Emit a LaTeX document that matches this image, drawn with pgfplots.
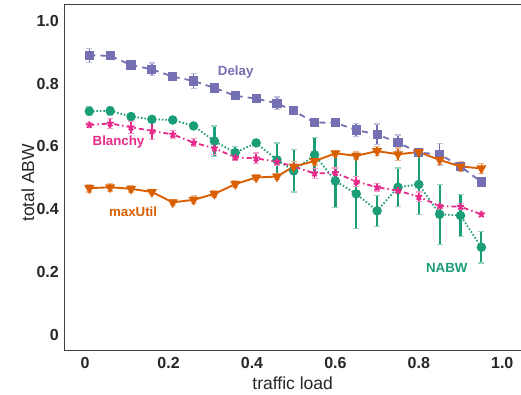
\documentclass[border=0pt]{standalone}
\usepackage{pgfplots}
\pgfplotsset{compat=1.18}
\usepackage{pgfplotstable}
\usepackage{fontspec}
\setmainfont{Liberation Sans}
\definecolor{cDelay}{HTML}{7570B3}
\definecolor{cNABW}{HTML}{1B9E77}
\definecolor{cBlan}{HTML}{E7298A}
\definecolor{cMax}{HTML}{D95F02}
\pgfplotstableread{
x y e
0.01 0.890 0.022
0.06 0.888 0.006
0.11 0.859 0.010
0.16 0.845 0.020
0.21 0.822 0.010
0.26 0.808 0.025
0.31 0.786 0.015
0.36 0.761 0.012
0.41 0.752 0.006
0.46 0.737 0.020
0.50 0.713 0.008
0.55 0.676 0.008
0.60 0.675 0.008
0.65 0.652 0.020
0.70 0.638 0.033
0.75 0.612 0.024
0.80 0.580 0.010
0.85 0.575 0.034
0.90 0.536 0.010
0.95 0.487 0.010
}\delaytab
\pgfplotstableread{
x y e
0.01 0.712 0.013
0.06 0.713 0.013
0.11 0.695 0.008
0.16 0.686 0.006
0.21 0.684 0.006
0.26 0.665 0.008
0.31 0.617 0.048
0.36 0.580 0.020
0.41 0.611 0.005
0.46 0.557 0.054
0.50 0.522 0.067
0.55 0.573 0.054
0.60 0.490 0.084
0.65 0.449 0.111
0.70 0.395 0.050
0.75 0.470 0.061
0.80 0.479 0.095
0.85 0.384 0.096
0.90 0.380 0.066
0.95 0.279 0.050
}\nabwtab
\pgfplotstableread{
x y e
0.01 0.668 0.008
0.06 0.673 0.015
0.11 0.661 0.020
0.16 0.649 0.026
0.21 0.638 0.013
0.26 0.612 0.013
0.31 0.594 0.020
0.36 0.565 0.010
0.41 0.562 0.017
0.46 0.551 0.010
0.50 0.536 0.006
0.55 0.514 0.015
0.60 0.516 0.015
0.65 0.488 0.015
0.70 0.470 0.012
0.75 0.459 0.006
0.80 0.440 0.015
0.85 0.410 0.006
0.90 0.408 0.010
0.95 0.384 0.006
}\blantab
\pgfplotstableread{
x y e
0.01 0.467 0.012
0.06 0.470 0.012
0.11 0.465 0.010
0.16 0.455 0.008
0.21 0.422 0.010
0.26 0.430 0.012
0.31 0.449 0.010
0.36 0.480 0.012
0.41 0.501 0.010
0.46 0.504 0.010
0.50 0.536 0.015
0.55 0.553 0.012
0.60 0.578 0.010
0.65 0.570 0.012
0.70 0.585 0.015
0.75 0.575 0.020
0.80 0.582 0.012
0.85 0.557 0.015
0.90 0.536 0.015
0.95 0.530 0.015
}\maxtab
\begin{document}
\begin{tikzpicture}
\begin{axis}[
  at={(0,0)}, anchor=south west,
  scale only axis, width=456.7pt, height=346.7pt,
  xmin=-0.05, xmax=1.045, ymin=-0.05, ymax=1.053,
  xtick={0,0.2,0.4,0.6,0.8,1.0}, xticklabels={0,0.2,0.4,0.6,0.8,1.0},
  ytick={0,0.2,0.4,0.6,0.8,1.0}, yticklabels={0,0.2,0.4,0.6,0.8,1.0},
  major tick length=0pt,
  /pgf/number format/assume math mode=true,
  ticklabel style={font=\bfseries\fontsize{16}{16}\selectfont, text=black!85},
  xticklabel style={yshift=-3pt},
  yticklabel style={xshift=-2pt},
  axis line style={black!75, line width=0.8pt},
  xlabel={traffic load}, ylabel={total ABW},
  label style={font=\fontsize{17.5}{17.5}\selectfont, text=black!85},
  xlabel style={at={(axis description cs:0.5,-0.095)}, anchor=center},
  ylabel style={at={(axis description cs:-0.08,0.484)}, anchor=center, rotate=0},
  error bars/y dir=both, error bars/y explicit,
]
\addplot[cDelay, line width=1.8pt, dash pattern=on 6pt off 5pt,
  mark=square*, mark size=3.7pt, mark options={solid},
  error bars/error bar style={cDelay, line width=1.6pt, solid},
  error bars/error mark options={rotate=90, cDelay!45, mark size=3pt, line width=1.2pt}]
  table[x=x, y=y, y error=e] {\delaytab};
\addplot[cNABW, line width=1.8pt, dash pattern=on 1.5pt off 2pt,
  mark=*, mark size=3.8pt, mark options={solid},
  error bars/error bar style={cNABW, line width=2.2pt, solid},
  error bars/error mark options={rotate=90, cNABW!45, mark size=3pt, line width=1.2pt}]
  table[x=x, y=y, y error=e] {\nabwtab};
\addplot[cBlan, line width=1.8pt, dash pattern=on 5pt off 3pt on 1.5pt off 3pt,
  mark=star, mark size=3.6pt, mark options={solid, line width=1.9pt},
  error bars/error bar style={cBlan, line width=1.6pt, solid},
  error bars/error mark options={rotate=90, cBlan!45, mark size=3pt, line width=1.2pt}]
  table[x=x, y=y, y error=e] {\blantab};
\addplot[cMax, line width=1.9pt,
  mark=triangle*, mark size=4pt, mark options={solid, rotate=180},
  error bars/error bar style={cMax, line width=1.6pt, solid},
  error bars/error mark options={rotate=90, cMax!45, mark size=3pt, line width=1.2pt}]
  table[x=x, y=y, y error=e] {\maxtab};
\node[text=cDelay, font=\bfseries\fontsize{13.3}{13.3}\selectfont] at (axis cs:0.361,0.835) {Delay};
\node[text=cBlan, font=\bfseries\fontsize{13.3}{13.3}\selectfont] at (axis cs:0.080,0.614) {Blanchy};
\node[text=cMax, font=\bfseries\fontsize{13.3}{13.3}\selectfont] at (axis cs:0.115,0.392) {maxUtil};
\node[text=cNABW, font=\bfseries\fontsize{13.3}{13.3}\selectfont] at (axis cs:0.867,0.214) {NABW};
\end{axis}
\pgfresetboundingbox
\useasboundingbox (-64.3pt,-44.3pt) rectangle (456.7pt,350.7pt);
\end{tikzpicture}
\end{document}
